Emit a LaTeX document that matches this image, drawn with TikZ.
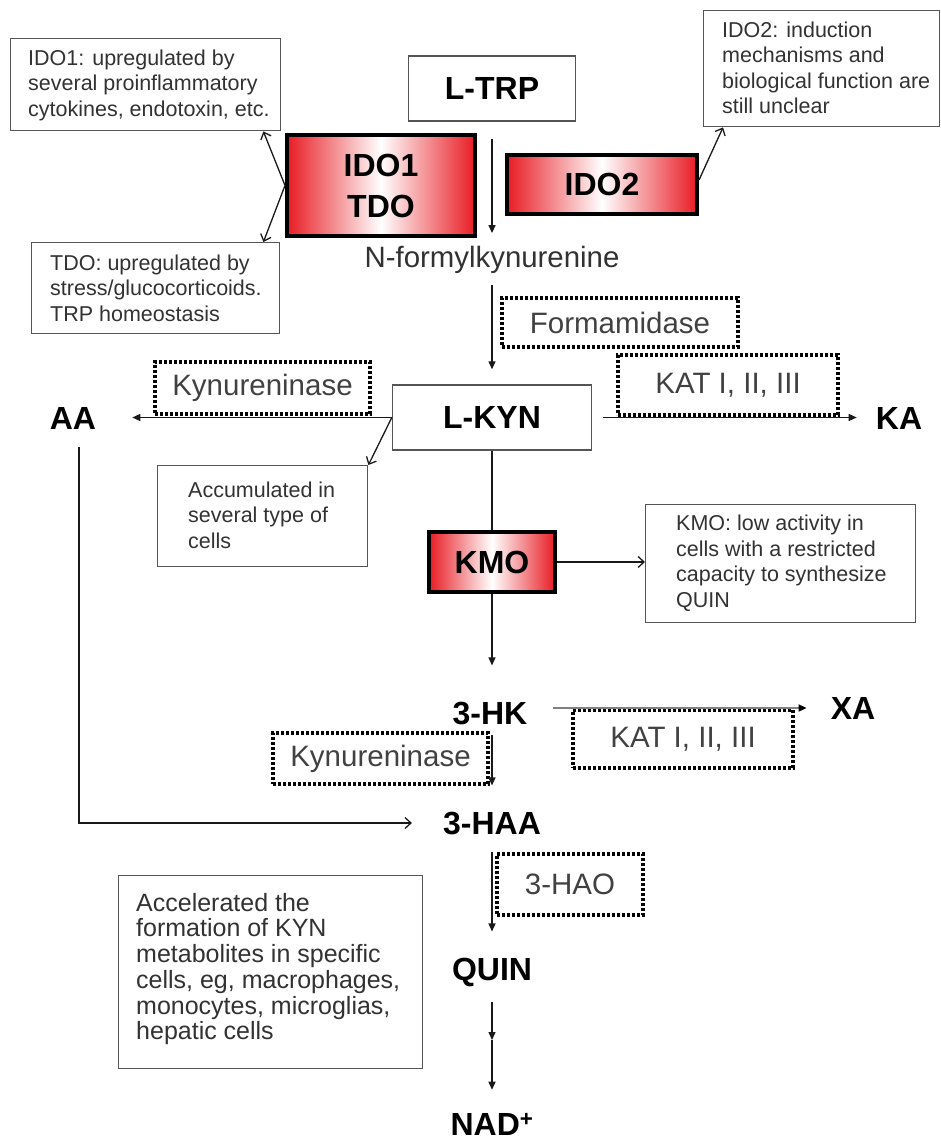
\documentclass[tikz,border=0pt]{standalone}
\usepackage{fontspec}
\setmainfont{Liberation Sans}
\usetikzlibrary{arrows.meta,calc}
\definecolor{redd}{RGB}{232,28,36}
\definecolor{boxgray}{RGB}{85,85,85}
\definecolor{txtgray}{RGB}{50,50,50}
\definecolor{enzgray}{RGB}{65,65,65}
\begin{document}
\begin{tikzpicture}[x=1pt,y=-1pt,
 lbl/.style={font=\fontsize{32}{38}\selectfont\bfseries, inner sep=0pt, text=black},
 mainbox/.style={draw=boxgray, line width=1.4pt, fill=white, font=\fontsize{32}{38}\selectfont\bfseries, inner sep=0pt},
 redbox/.style={draw=black, line width=4pt, left color=redd, right color=redd, middle color=white, font=\fontsize{32}{41}\selectfont\bfseries, inner sep=0pt, align=center},
 enz/.style={draw=black, line width=3.6pt, dash pattern=on 3pt off 2pt, font=\fontsize{29.5}{34}\selectfont, text=enzgray, inner sep=0pt},
 notebox/.style={draw=boxgray, line width=1.4pt, fill=white, inner sep=0pt, anchor=north west},
 notetext/.style={font=\fontsize{21.5}{25.5}\selectfont, text=txtgray, align=left, inner sep=0pt, anchor=west},
 arr/.style={draw=black!90, line width=1.3pt, -{Triangle[length=8pt,width=7pt]}},
 oarr/.style={draw=black!90, line width=1.3pt, -{Straight Barb[length=6pt,width=11pt]}},
 plain/.style={draw=black!90, line width=1.3pt}
]
\useasboundingbox (0,0) rectangle (940,1142);

% main pathway nodes
\node[mainbox, minimum width=167pt, minimum height=65pt] (ltrp) at (492,88.5) {L-TRP};
\node[redbox, minimum width=188pt, minimum height=101pt] (ido1) at (381,185.5) {IDO1\\TDO};
\node[redbox, minimum width=190pt, minimum height=59pt] (ido2) at (602,184.5) {IDO2};
\node[font=\fontsize{29.4}{34}\selectfont, text=txtgray, inner sep=0pt] (nfk) at (492,260) {N-formylkynurenine};
\node[mainbox, minimum width=199pt, minimum height=65pt] (lkyn) at (492,417.5) {L-KYN};
\node[redbox, minimum width=126pt, minimum height=60pt] (kmo) at (492,562) {KMO};
\node[lbl] (aa) at (73,418) {AA};
\node[lbl] (ka) at (899,418) {KA};
\node[lbl] (hk) at (490,713) {3-HK};
\node[lbl] (xa) at (853,708) {XA};
\node[lbl] (haa) at (492,823) {3-HAA};
\node[lbl] (quin) at (492,972) {QUIN};
\node[lbl] (nad) at (492,1124) {NAD\textsuperscript{+}};
\coordinate (qmid) at (492,1040);

% enzymes
\node[enz, minimum width=236pt, minimum height=49pt] (form) at (620,322.5) {Formamidase};
\node[enz, minimum width=215pt, minimum height=52pt] (kyn1) at (262.5,388) {Kynureninase};
\node[enz, minimum width=220pt, minimum height=60pt] (kat1) at (728,385) {KAT I, II, III};
\node[enz, minimum width=215pt, minimum height=51pt] (kyn2) at (380.5,758.5) {Kynureninase};
\node[enz, minimum width=220pt, minimum height=58pt] (kat2) at (683,739) {KAT I, II, III};
\node[enz, minimum width=146pt, minimum height=61pt] (hao) at (570,884.5) {3-HAO};

% notes
\node[notebox, minimum width=270pt, minimum height=92pt] (ido1n) at (10,38) {};
\node[notetext] (ido1nt) at (28,85) {IDO1: upregulated by\\several proinflammatory\\cytokines, endotoxin, etc.};
\node[notebox, minimum width=248pt, minimum height=91pt] (tdon) at (31,242) {};
\node[notetext] (tdont) at (50,288) {TDO: upregulated by\\stress/glucocorticoids.\\TRP homeostasis};
\node[notebox, minimum width=236pt, minimum height=116pt] (ido2n) at (703,10) {};
\node[notetext] (ido2nt) at (722,68) {IDO2: induction\\mechanisms and\\biological function are\\still unclear};
\node[notebox, minimum width=210pt, minimum height=101pt] (accn) at (157,465) {};
\node[notetext] (accnt) at (188,515) {Accumulated in\\several type of\\cells};
\node[notebox, minimum width=270pt, minimum height=118pt] (kmon) at (645,504) {};
\node[notetext] (kmont) at (676,563) {KMO: low activity in\\cells with a restricted\\capacity to synthesize\\QUIN};
\node[notebox, minimum width=304pt, minimum height=193pt] (acceln) at (118,875) {};
\node[notetext, font=\fontsize{25}{25.7}\selectfont] (accelnt) at (136,969) {Accelerated the\\formation of KYN\\metabolites in specific\\cells, eg, macrophages,\\monocytes, microglias,\\hepatic cells};

% main chain connectors
\draw[arr, shorten <=17pt, shorten >=13pt] (ltrp.south -| nfk.north) -- (nfk.north);
\draw[arr, shorten <=11pt, shorten >=15pt] (nfk.south) -- (nfk.south |- lkyn.north);
\draw[plain] (lkyn.south) -- (kmo.north);
\draw[arr, shorten >=36pt] (kmo.south) -- (kmo.south |- hk.north);
\draw[arr, shorten <=10pt, shorten >=26pt] (hk.south -| haa.north) -- (haa.north);
\draw[arr, shorten <=17pt, shorten >=26pt] (haa.south) -- (quin.north);
\draw[arr, shorten <=15pt] (quin.south) -- (qmid);
\draw[arr, shorten >=23pt] (qmid) -- (nad.north);

% side branches
\draw[arr, shorten >=36pt] (lkyn.west) -- (lkyn.west -| aa.east);
\draw[arr, shorten <=11pt, shorten >=19pt] (lkyn.east) -- (lkyn.east -| ka.west);
\draw[arr, draw=gray, line width=1.8pt, -{Triangle[length=8pt,width=7pt,color=black]}, shorten <=25pt, shorten >=24pt] (hk.east |- xa.west) -- (xa.west);
\draw[oarr, shorten <=18pt, shorten >=31pt] ([xshift=6pt]aa.south) |- (haa.west);

% note connectors
\draw[oarr] (lkyn.west) -- (accn.north east);
\draw[oarr] (kmo.east) -- (kmo.east -| kmon.west);
\draw[oarr] (ido1.west) -- ([xshift=-18pt]ido1n.south east);
\draw[oarr] (ido1.west) -- ([xshift=-17pt]tdon.north east);
\draw[oarr] ([yshift=4.5pt]ido2.east) -- ([xshift=20pt]ido2n.south west);
\end{tikzpicture}
\end{document}
